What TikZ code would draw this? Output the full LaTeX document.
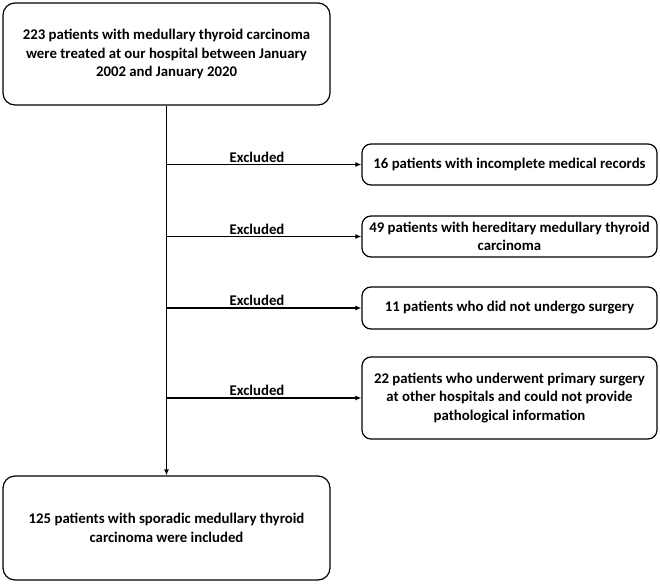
\documentclass[tikz,border=0pt]{standalone}
\usepackage{fontspec}
\setmainfont{Carlito}
\usetikzlibrary{arrows.meta}
\begin{document}
\begin{tikzpicture}[x=1pt,y=-1pt,
  box/.style={draw,line width=1.2pt,rounded corners=12pt,align=center,font=\bfseries\fontsize{14.8}{18.5}\selectfont,inner sep=0pt},
  sbox/.style={box,rounded corners=9pt,minimum width=295pt},
  lbl/.style={font=\bfseries\fontsize{14.8}{18.5}\selectfont,inner sep=0pt},
  conn/.style={line width=1.2pt},
  arr/.style={conn,-{Latex[length=6pt,width=5pt]}}]
\useasboundingbox (0,0) rectangle (660,583);
\node[box,minimum width=327pt,minimum height=102pt] (top) at (166.5,54)
  {223 patients with medullary thyroid carcinoma\\were treated at our hospital between January\\2002 and January 2020};
\node[box,minimum width=327pt,minimum height=104pt] (bot) at (166.5,528)
  {125 patients with sporadic medullary thyroid\\carcinoma were included};
\node[sbox,minimum height=41pt] (e1) at (509.5,164.5) {16 patients with incomplete medical records};
\node[sbox,minimum height=41pt] (e2) at (509.5,236.5) {49 patients with hereditary medullary thyroid\\carcinoma};
\node[sbox,minimum height=42pt] (e3) at (509.5,308) {11 patients who did not undergo surgery};
\node[sbox,minimum height=82pt] (e4) at (509.5,398) {22 patients who underwent primary surgery\\at other hospitals and could not provide\\pathological information};
\draw[arr] (top.south) -- (bot.north);
\foreach \i in {1,2,3,4}{
  \coordinate (b\i) at (top.south |- e\i.west);
  \draw[arr] (b\i) -- (e\i.west);
}
\node[lbl] (l1) at (257,157) {Excluded};
\node[lbl] (l2) at (257,229) {Excluded};
\node[lbl] (l3) at (257,300) {Excluded};
\node[lbl] (l4) at (257,390) {Excluded};
\end{tikzpicture}
\end{document}
